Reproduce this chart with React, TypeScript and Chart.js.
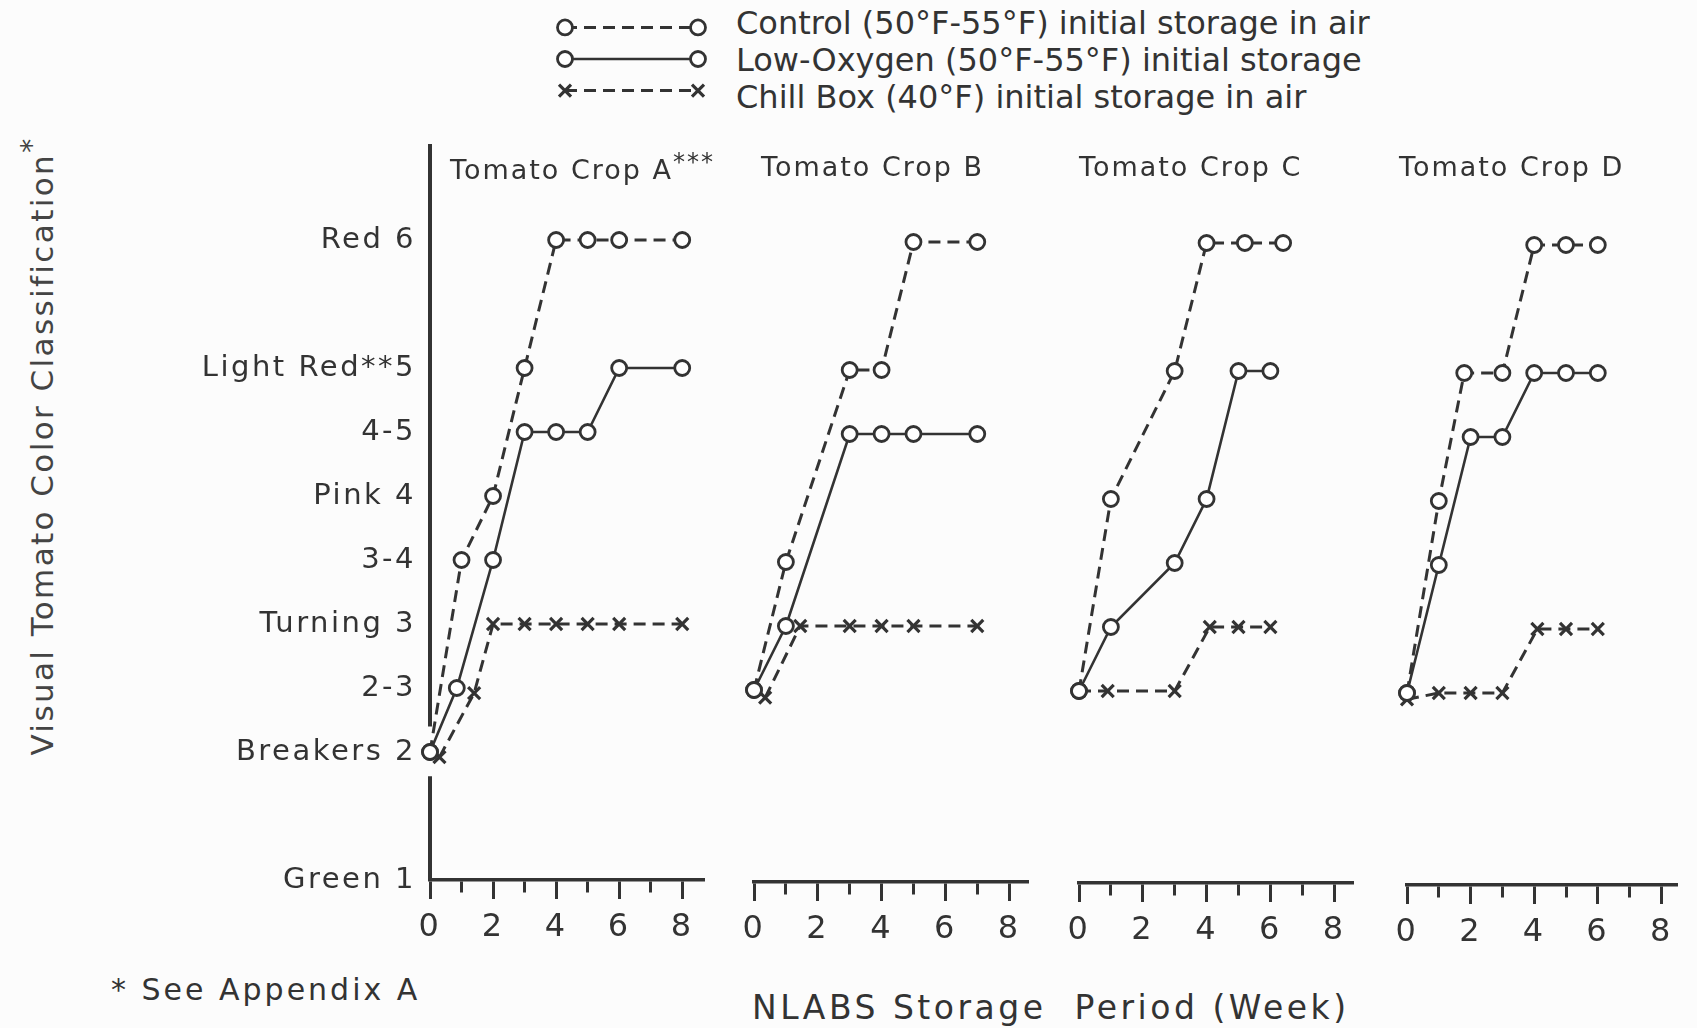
import React, { useEffect, useRef } from "react";
import { Chart, registerables } from "chart.js";

Chart.register(...registerables);

const INK = "#333333";
const FONT = "'DejaVu Sans', 'Noto Sans', sans-serif";

// ---- axis / label text ----
const colorScaleValues = [1, 2, 2.5, 3, 3.5, 4, 4.5, 5, 6];
const colorScaleLabels = ["Green 1", "Breakers 2", "2-3", "Turning 3", "3-4", "Pink 4", "4-5", "Light Red**5", "Red 6"];
const weekTickValues = [0, 1, 2, 3, 4, 5, 6, 7, 8];
const weekTickLabels = ["0", "", "2", "", "4", "", "6", "", "8"];
const seriesNames = [
  "Control (50°F-55°F) initial storage in air",
  "Low-Oxygen (50°F-55°F) initial storage",
  "Chill Box (40°F) initial storage in air",
];
const cropTitles = ["Tomato Crop A", "Tomato Crop B", "Tomato Crop C", "Tomato Crop D"];
const yAxisTitle = "Visual Tomato Color Classification";
const xAxisTitle = "NLABS Storage  Period (Week)";
const footnote = "* See Appendix A";

// ---- Crop A ----
const controlWeeksA = [0, 1, 2, 3, 4, 5, 6, 8];
const controlA = [2, 3.5, 4, 5, 6, 6, 6, 6];
const lowO2WeeksA = [0, 0.85, 2, 3, 4, 5, 6, 8];
const lowO2A = [2, 2.5, 3.5, 4.5, 4.5, 4.5, 5, 5];
const chillWeeksA = [0.3, 1.4, 2, 3, 4, 5, 6, 8];
const chillA = [1.96, 2.46, 3, 3, 3, 3, 3, 3];

// ---- Crop B ----
const controlWeeksB = [0, 1, 3, 4, 5, 7];
const controlB = [2.5, 3.5, 5, 5, 6, 6];
const lowO2WeeksB = [0, 1, 3, 4, 5, 7];
const lowO2B = [2.5, 3, 4.5, 4.5, 4.5, 4.5];
const chillWeeksB = [0.35, 1.45, 3, 4, 5, 7];
const chillB = [2.44, 3, 3, 3, 3, 3];

// ---- Crop C ----
const controlWeeksC = [0, 1, 3, 4, 5.2, 6.4];
const controlC = [2.5, 4, 5, 6, 6, 6];
const lowO2WeeksC = [0, 1, 3, 4, 5, 6];
const lowO2C = [2.5, 3, 3.5, 4, 5, 5];
const chillWeeksC = [0, 0.9, 3, 4.1, 5, 6];
const chillC = [2.5, 2.5, 2.5, 3, 3, 3];

// ---- Crop D ----
const controlWeeksD = [0, 1, 1.8, 3, 4, 5, 6];
const controlD = [2.5, 4, 5, 5, 6, 6, 6];
const lowO2WeeksD = [0, 1, 2, 3, 4, 5, 6];
const lowO2D = [2.5, 3.5, 4.5, 4.5, 5, 5, 5];
const chillWeeksD = [0, 1, 2, 3, 4.1, 5, 6];
const chillD = [2.45, 2.5, 2.5, 2.5, 3, 3, 3];

// ---- legend samples ----
const legendSampleX = [0, 1];
const legendRows = [1, 2, 3];

const toPoints = (w: number[], v: number[]) => w.map((x, i) => ({ x, y: v[i] }));

const styleControl = {
  borderColor: INK, borderWidth: 3, borderDash: [12, 7],
  pointStyle: "circle", pointRadius: 7.5, pointBorderWidth: 2.8,
  pointBackgroundColor: "#fff", pointBorderColor: INK, tension: 0, clip: false, fill: false,
};
const styleLowO2 = {
  borderColor: INK, borderWidth: 2.6, borderDash: [],
  pointStyle: "circle", pointRadius: 7.5, pointBorderWidth: 2.8,
  pointBackgroundColor: "#fff", pointBorderColor: INK, tension: 0, clip: false, fill: false,
};
const styleChill = {
  borderColor: INK, borderWidth: 3, borderDash: [12, 7],
  pointStyle: "crossRot", pointRadius: 8.5, pointBorderWidth: 3.2,
  pointBackgroundColor: INK, pointBorderColor: INK, tension: 0, clip: false, fill: false,
};

const spacingPlugin = {
  id: "letterSpacingPlugin",
  beforeLayout(chart: any) { chart.ctx.letterSpacing = "2.5px"; },
  beforeDraw(chart: any) { chart.ctx.letterSpacing = "2.5px"; },
};

// y-axis line drawn in two pieces (the original is interrupted around the Breakers marker)
const Y_AXIS_GAP = [1.81, 2.2];
const brokenYAxisPlugin = {
  id: "brokenYAxis",
  beforeDatasetsDraw(chart: any) {
    const ys = chart.scales.y;
    if (!ys || !ys.options.display) return;
    const { ctx, chartArea } = chart;
    const x = chartArea.left;
    const gapTop = ys.getPixelForValue(Y_AXIS_GAP[1]);
    const gapBottom = ys.getPixelForValue(Y_AXIS_GAP[0]);
    ctx.save();
    ctx.strokeStyle = INK;
    ctx.lineWidth = 4;
    ctx.beginPath();
    ctx.moveTo(x, chartArea.top);
    ctx.lineTo(x, gapTop);
    ctx.moveTo(x, gapBottom);
    ctx.lineTo(x, chartArea.bottom);
    ctx.stroke();
    ctx.restore();
  },
};

const CANVAS_TOP = 120;
const CANVAS_H = 840;
const PAD_TOP = 24;
const X_AXIS_H = 80;

type PanelProps = {
  control: [number[], number[]];
  lowO2: [number[], number[]];
  chill: [number[], number[]];
  plotLeft: number;
  weekPx: number;
  xMax: number;
  showY: boolean;
  dy: number;
};

function Panel(p: PanelProps) {
  const ref = useRef<HTMLCanvasElement>(null);
  const padLeft = p.showY ? 19 : 22;
  const padRight = 6;
  const plotWidth = Math.round(p.xMax * p.weekPx);
  const canvasLeft = p.showY ? 0 : p.plotLeft - padLeft;
  const width = p.showY ? p.plotLeft + plotWidth + padRight : padLeft + plotWidth + padRight;
  const padBottom = CANVAS_H - PAD_TOP - 736 - X_AXIS_H;

  useEffect(() => {
    const chart = new Chart(ref.current as HTMLCanvasElement, {
      type: "line",
      data: {
        datasets: [
          { label: seriesNames[0], data: toPoints(p.control[0], p.control[1]), ...styleControl } as any,
          { label: seriesNames[1], data: toPoints(p.lowO2[0], p.lowO2[1]), ...styleLowO2 } as any,
          { label: seriesNames[2], data: toPoints(p.chill[0], p.chill[1]), ...styleChill } as any,
        ],
      },
      options: {
        animation: false,
        responsive: false,
        events: [],
        layout: { padding: { left: padLeft, right: padRight, top: PAD_TOP, bottom: padBottom } },
        plugins: { legend: { display: false }, title: { display: false }, tooltip: { enabled: false } },
        scales: {
          x: {
            type: "linear",
            min: 0,
            max: p.xMax,
            afterBuildTicks: (s: any) => { s.ticks = weekTickValues.map((v) => ({ value: v })); },
            afterFit: (s: any) => { s.height = X_AXIS_H; },
            border: { display: true, color: INK, width: 3.5 },
            grid: {
              display: true,
              drawOnChartArea: false,
              drawTicks: true,
              tickLength: 19,
              tickWidth: 3,
              tickColor: INK,
              tickBorderDash: (ctx: any) => (ctx.tick && ctx.tick.value % 2 ? [11, 100] : []),
            },
            ticks: {
              autoSkip: false,
              maxRotation: 0,
              padding: 9,
              color: INK,
              font: { family: FONT, size: 32 },
              callback: (_v: any, i: number) => weekTickLabels[i],
            },
          },
          y: {
            type: "linear",
            min: 1,
            max: 6.75,
            display: p.showY,
            afterBuildTicks: (s: any) => { s.ticks = colorScaleValues.map((v) => ({ value: v })); },
            afterFit: (s: any) => {
              if (p.showY) s.width = p.plotLeft - padLeft;
              s.paddingTop = 0;
              s.paddingBottom = 0;
            },
            border: { display: false },
            grid: { display: false, drawTicks: false },
            ticks: {
              padding: 14,
              color: INK,
              font: { family: FONT, size: 29 },
              callback: (v: any) => colorScaleLabels[colorScaleValues.indexOf(Number(v))] ?? "",
            },
            title: { display: false },
          },
        },
      },
      plugins: [spacingPlugin, brokenYAxisPlugin],
    } as any);
    return () => chart.destroy();
  }, []);

  return (
    <canvas
      ref={ref}
      width={width}
      height={CANVAS_H}
      style={{ position: "absolute", left: canvasLeft, top: CANVAS_TOP + p.dy, width, height: CANVAS_H }}
    />
  );
}

function LegendSamples() {
  const ref = useRef<HTMLCanvasElement>(null);
  useEffect(() => {
    const chart = new Chart(ref.current as HTMLCanvasElement, {
      type: "line",
      data: {
        datasets: [
          { label: seriesNames[0], data: legendSampleX.map((x) => ({ x, y: legendRows[0] })), ...styleControl } as any,
          { label: seriesNames[1], data: legendSampleX.map((x) => ({ x, y: legendRows[1] })), ...styleLowO2 } as any,
          { label: seriesNames[2], data: legendSampleX.map((x) => ({ x, y: legendRows[2] })), ...styleChill } as any,
        ],
      },
      options: {
        animation: false,
        responsive: false,
        events: [],
        layout: { padding: { left: 15, right: 22, top: 4, bottom: 3 } },
        plugins: { legend: { display: false }, tooltip: { enabled: false } },
        scales: {
          x: { type: "linear", min: 0, max: 1, display: false },
          y: { type: "linear", min: 0.5, max: 3.5, reverse: true, display: false },
        },
      },
    } as any);
    return () => chart.destroy();
  }, []);
  return <canvas ref={ref} width={170} height={118} style={{ position: "absolute", left: 550, top: 0, width: 170, height: 118 }} />;
}

const textBase: React.CSSProperties = {
  position: "absolute",
  fontFamily: FONT,
  color: INK,
  whiteSpace: "pre",
  lineHeight: 1,
  transform: "translateY(-50%)",
};

export default function App() {
  return (
    <div style={{ position: "absolute", left: 0, top: 0, width: 1697, height: 1028, overflow: "hidden", background: "#fcfcfc" }}>
      <LegendSamples />
      {seriesNames.map((n, i) => (
        <div key={n} style={{ ...textBase, left: 736, top: 22.5 + i * 37, fontSize: 32 }}>{n}</div>
      ))}

      <div
        style={{
          ...textBase,
          left: 38,
          top: 446,
          fontSize: 31,
          letterSpacing: 2.4,
          color: "#444",
          transform: "translate(-50%, -50%) rotate(-90deg)",
        }}
      >
        {yAxisTitle}<span style={{ fontSize: 28, verticalAlign: "12px" }}>*</span>
      </div>

      <Panel control={[controlWeeksA, controlA]} lowO2={[lowO2WeeksA, lowO2A]} chill={[chillWeeksA, chillA]} plotLeft={430} weekPx={32.2} xMax={8.7} showY={true} dy={0} />
      <Panel control={[controlWeeksB, controlB]} lowO2={[lowO2WeeksB, lowO2B]} chill={[chillWeeksB, chillB]} plotLeft={754} weekPx={32.5} xMax={8.6} showY={false} dy={2} />
      <Panel control={[controlWeeksC, controlC]} lowO2={[lowO2WeeksC, lowO2C]} chill={[chillWeeksC, chillC]} plotLeft={1079} weekPx={32.6} xMax={8.6} showY={false} dy={3} />
      <Panel control={[controlWeeksD, controlD]} lowO2={[lowO2WeeksD, lowO2D]} chill={[chillWeeksD, chillD]} plotLeft={1407} weekPx={32.5} xMax={8.5} showY={false} dy={5} />

      <div style={{ ...textBase, left: 450, top: 166, fontSize: 27, letterSpacing: 2 }}>
        {cropTitles[0]}<span style={{ fontSize: 24, verticalAlign: "9px" }}>***</span>
      </div>
      <div style={{ ...textBase, left: 761, top: 166, fontSize: 27, letterSpacing: 2 }}>{cropTitles[1]}</div>
      <div style={{ ...textBase, left: 1079, top: 166, fontSize: 27, letterSpacing: 2 }}>{cropTitles[2]}</div>
      <div style={{ ...textBase, left: 1399, top: 166, fontSize: 27, letterSpacing: 2 }}>{cropTitles[3]}</div>

      <div style={{ ...textBase, left: 752, top: 1007, fontSize: 33, letterSpacing: 3.5 }}>{xAxisTitle}</div>
      <div style={{ ...textBase, left: 111, top: 990, fontSize: 30, letterSpacing: 3 }}>{footnote}</div>
    </div>
  );
}
